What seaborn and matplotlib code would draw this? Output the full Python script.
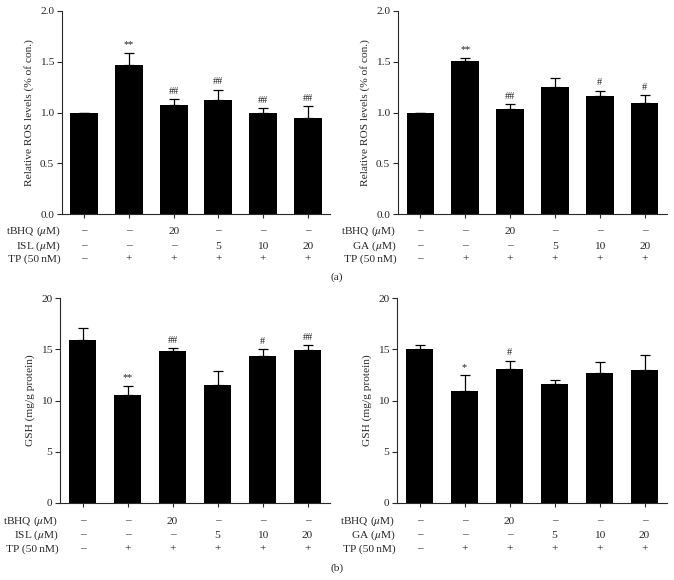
import numpy as np
import pandas as pd
import matplotlib
matplotlib.use("Agg")
import matplotlib.pyplot as plt
import matplotlib.transforms as mtransforms
import seaborn as sns

# ---- data ----
groups = ["g1", "g2", "g3", "g4", "g5", "g6"]
tbhq_row = ["–", "–", "20", "–", "–", "–"]
isl_row = ["–", "–", "–", "5", "10", "20"]
ga_row = ["–", "–", "–", "5", "10", "20"]
tp_row = ["–", "+", "+", "+", "+", "+"]

ros_isl_mean = [1.00, 1.465, 1.077, 1.123, 0.995, 0.946]
ros_isl_err = [0.00, 0.121, 0.053, 0.102, 0.049, 0.115]
ros_isl_sig = ["", "**", "##", "##", "##", "##"]

ros_ga_mean = [1.00, 1.504, 1.038, 1.248, 1.163, 1.094]
ros_ga_err = [0.00, 0.033, 0.046, 0.095, 0.052, 0.078]
ros_ga_sig = ["", "**", "##", "", "#", "#"]

gsh_isl_mean = [15.9, 10.57, 14.83, 11.54, 14.31, 14.96]
gsh_isl_err = [1.14, 0.84, 0.26, 1.37, 0.68, 0.45]
gsh_isl_sig = ["", "**", "##", "", "#", "##"]

gsh_ga_mean = [15.0, 10.97, 13.12, 11.59, 12.66, 12.95]
gsh_ga_err = [0.45, 1.50, 0.74, 0.39, 1.07, 1.47]
gsh_ga_sig = ["", "*", "#", "", "", ""]

ros_ticks = [0.0, 0.5, 1.0, 1.5, 2.0]
ros_ticklabels = ["0.0", "0.5", "1.0", "1.5", "2.0"]
gsh_ticks = [0, 5, 10, 15, 20]
gsh_ticklabels = ["0", "5", "10", "15", "20"]

sns.set_style("ticks")
plt.rcParams["font.family"] = ["Liberation Serif", "DejaVu Serif"]
plt.rcParams["mathtext.fontset"] = "stix"

W, H = 674, 580
fig = plt.figure(figsize=(W / 100, H / 100), dpi=100)

FS = 8.2
EDGE = "#2a2a2a"
FAM = ["Liberation Serif", "DejaVu Serif"]


def px_axes(l, r, t, b):
    return fig.add_axes([l / W, 1 - b / H, (r - l) / W, (b - t) / H])


def panel(ax, means, errs, sigs, ticks, ticklabels, ylim, ylabel, agent, rows_y):
    df = pd.DataFrame({"group": groups, "value": means})
    sns.barplot(data=df, x="group", y="value", order=groups, color="black",
                width=0.62, errorbar=None, ax=ax, saturation=1,
                edgecolor="black", linewidth=0)
    xs = np.arange(len(groups))
    ax.errorbar(xs, means, yerr=[np.zeros(len(errs)), errs], fmt="none",
                ecolor="black", elinewidth=0.9, capsize=3.6, capthick=0.9)
    for x, m, e, s in zip(xs, means, errs, sigs):
        if s:
            ax.annotate(s, (x, m + e), xytext=(0, 2.5), textcoords="offset points",
                        ha="center", va="bottom", fontsize=FS - 0.8, color="#222")
    ax.set_xlim(-0.5, 5.5)
    ax.set_ylim(*ylim)
    ax.set_yticks(ticks)
    ax.set_yticklabels(ticklabels, fontsize=FS)
    ax.set_xticks(xs)
    ax.set_xticklabels([])
    ax.set_xlabel("")
    ax.set_ylabel(ylabel, fontsize=FS, labelpad=4)
    ax.tick_params(axis="y", length=3.6, width=0.8, color=EDGE, pad=2)
    ax.tick_params(axis="x", length=3.2, width=0.8, color=EDGE)
    sns.despine(ax=ax)
    for sp in ["left", "bottom"]:
        ax.spines[sp].set_linewidth(0.8)
        ax.spines[sp].set_color(EDGE)
    ax.set_facecolor("none")

    tdata = mtransforms.blended_transform_factory(ax.transData, fig.transFigure)
    taxes = mtransforms.blended_transform_factory(ax.transAxes, fig.transFigure)
    labels = ["tBHQ ($\\mu$M)", agent + " ($\\mu$M)", "TP (50\u2009nM)"]
    rows = [tbhq_row, isl_row if agent == "ISL" else ga_row, tp_row]
    for yy, lab, row in zip(rows_y, labels, rows):
        fy = 1 - yy / H
        ax.text(-0.005, fy, lab, transform=taxes, ha="right", va="center",
                fontsize=FS, family=FAM)
        for x, v in zip(xs, row):
            ax.text(x, fy, v, transform=tdata, ha="center", va="center",
                    fontsize=FS, family=FAM)


ax1 = px_axes(62, 330, 11, 214)
panel(ax1, ros_isl_mean, ros_isl_err, ros_isl_sig, ros_ticks, ros_ticklabels,
      (0, 2.0), "Relative ROS levels (% of con.)", "ISL", [231, 246, 259])
ax2 = px_axes(398, 667, 11, 214)
panel(ax2, ros_ga_mean, ros_ga_err, ros_ga_sig, ros_ticks, ros_ticklabels,
      (0, 2.0), "Relative ROS levels (% of con.)", "GA", [231, 246, 259])
ax3 = px_axes(60, 330, 298, 503)
panel(ax3, gsh_isl_mean, gsh_isl_err, gsh_isl_sig, gsh_ticks, gsh_ticklabels,
      (0, 20), "GSH (mg/g protein)", "ISL", [521, 535, 549])
ax4 = px_axes(397, 667, 298, 503)
panel(ax4, gsh_ga_mean, gsh_ga_err, gsh_ga_sig, gsh_ticks, gsh_ticklabels,
      (0, 20), "GSH (mg/g protein)", "GA", [521, 535, 549])

fig.text(337 / W, 1 - 277 / H, "(a)", ha="center", va="center", fontsize=FS)
fig.text(337 / W, 1 - 568 / H, "(b)", ha="center", va="center", fontsize=FS)

fig.savefig("out.png", dpi=100)
